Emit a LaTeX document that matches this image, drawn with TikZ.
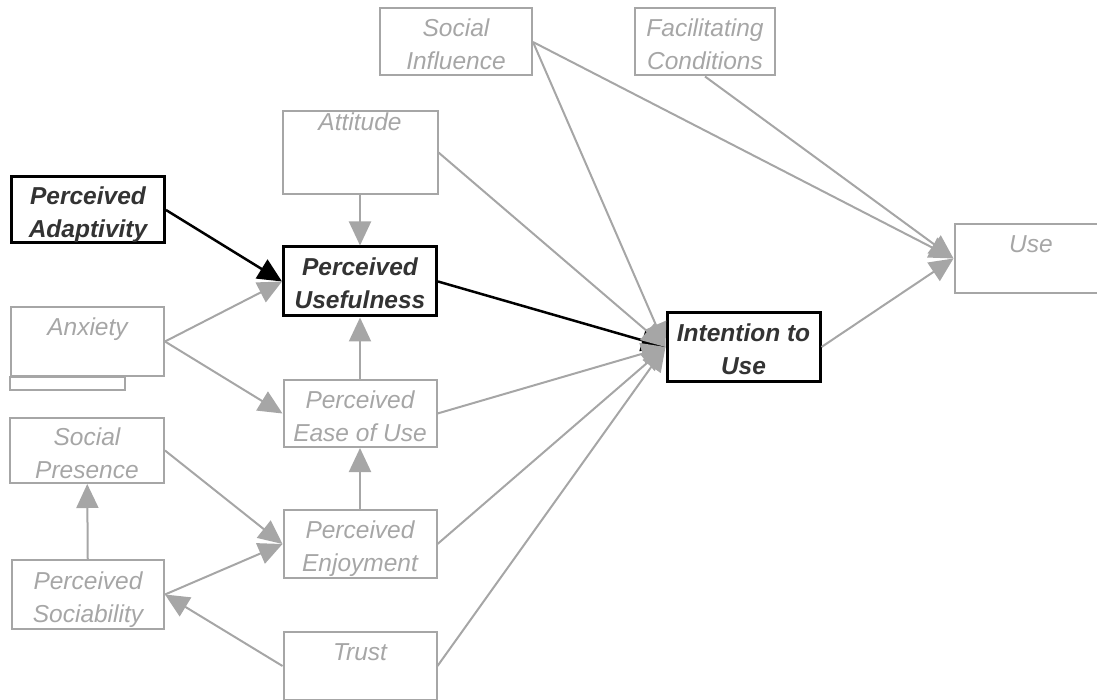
\documentclass[tikz,border=0pt]{standalone}
\usepackage{fontspec}
\setmainfont{Liberation Sans}
\usetikzlibrary{arrows.meta}
\definecolor{boxgray}{HTML}{A6A6A6}
\definecolor{darktext}{HTML}{333333}

\begin{document}
\begin{tikzpicture}[x=1pt,y=-1pt]
\tikzset{box/.style = {shape=rectangle,draw=boxgray,line width=2pt,text=boxgray,align=center,
  minimum width=153pt,minimum height=68pt,inner sep=0pt,text height=60pt,text depth=5pt,
  font=\fontsize{24.5}{33}\selectfont\itshape}}
\tikzset{onebox/.style = {box,text height=27pt,text depth=38pt}}
\tikzset{keybox/.style = {box,draw=black,line width=3pt,text=darktext,
  font=\fontsize{24.5}{33}\selectfont\bfseries\itshape}}
\tikzset{edge/.style = {-{Triangle[length=24pt,width=22pt]},color=boxgray,line width=2pt}}
\tikzset{keyedge/.style = {edge,color=black,line width=2.5pt}}

\useasboundingbox (0,0) rectangle (1097,700);

\node[box, minimum width=152pt, minimum height=67pt] (si) at (456,42) {Social\\Influence};
\node[box, minimum width=140pt, minimum height=67pt] (fc) at (705,42) {Facilitating\\Conditions};
\node[onebox, minimum width=155pt, minimum height=83pt, text height=20pt, text depth=63pt] (att) at (360,152.5) {Attitude};
\node[keybox, minimum height=66pt] (pa) at (88,210) {Perceived\\Adaptivity};
\node[keybox, minimum height=69pt] (pu) at (360,281.5) {Perceived\\Usefulness};
\node[onebox, minimum height=69pt] (use) at (1031,258.5) {Use};
\node[onebox] (anx) at (87.5,341.5) {Anxiety};
\node[keybox] (iu) at (743.5,347) {Intention to\\Use};
\node[box, minimum height=67pt] (peou) at (360,413.5) {Perceived\\Ease of Use};
\node[box, minimum width=154pt, minimum height=65pt] (sp) at (87,450.5) {Social\\Presence};
\node[box] (pe) at (360,544) {Perceived\\Enjoyment};
\node[box, minimum width=152pt, minimum height=69pt] (ps) at (88,594.5) {Perceived\\Sociability};
\node[onebox] (trust) at (360,666) {Trust};

% second sheet under the anxiety box
\draw[boxgray, line width=2pt] (anx.south west) rectangle ++(115,13);

\draw[edge] (att) -- (pu);
\draw[keyedge] (pa.east) -- (pu.west);
\draw[keyedge] (pu.east) -- (iu.west);
\draw[edge] (anx.east) -- (pu.west);
\draw[edge] (anx.east) -- (peou.west);
\draw[edge] (peou) -- (pu);
\draw[edge] (pe) -- (peou);
\draw[edge] (att.east) -- (iu.west);
\draw[edge] (peou.east) -- (iu.west);
\draw[edge] (pe.east) -- (iu.west);
\draw[edge] (trust.east) -- (iu.west);
\draw[edge] (si.east) -- (iu.west);
\draw[edge] (si.east) -- (use.west);
\draw[edge] (fc.south) -- (use.west);
\draw[edge] (iu.east) -- (use.west);
\draw[edge] (sp.east) -- (pe.west);
\draw[edge] (ps.east) -- (pe.west);
\draw[edge] (ps) -- (sp);
\draw[edge] (trust.west) -- (ps.east);
\end{tikzpicture}
\end{document}
